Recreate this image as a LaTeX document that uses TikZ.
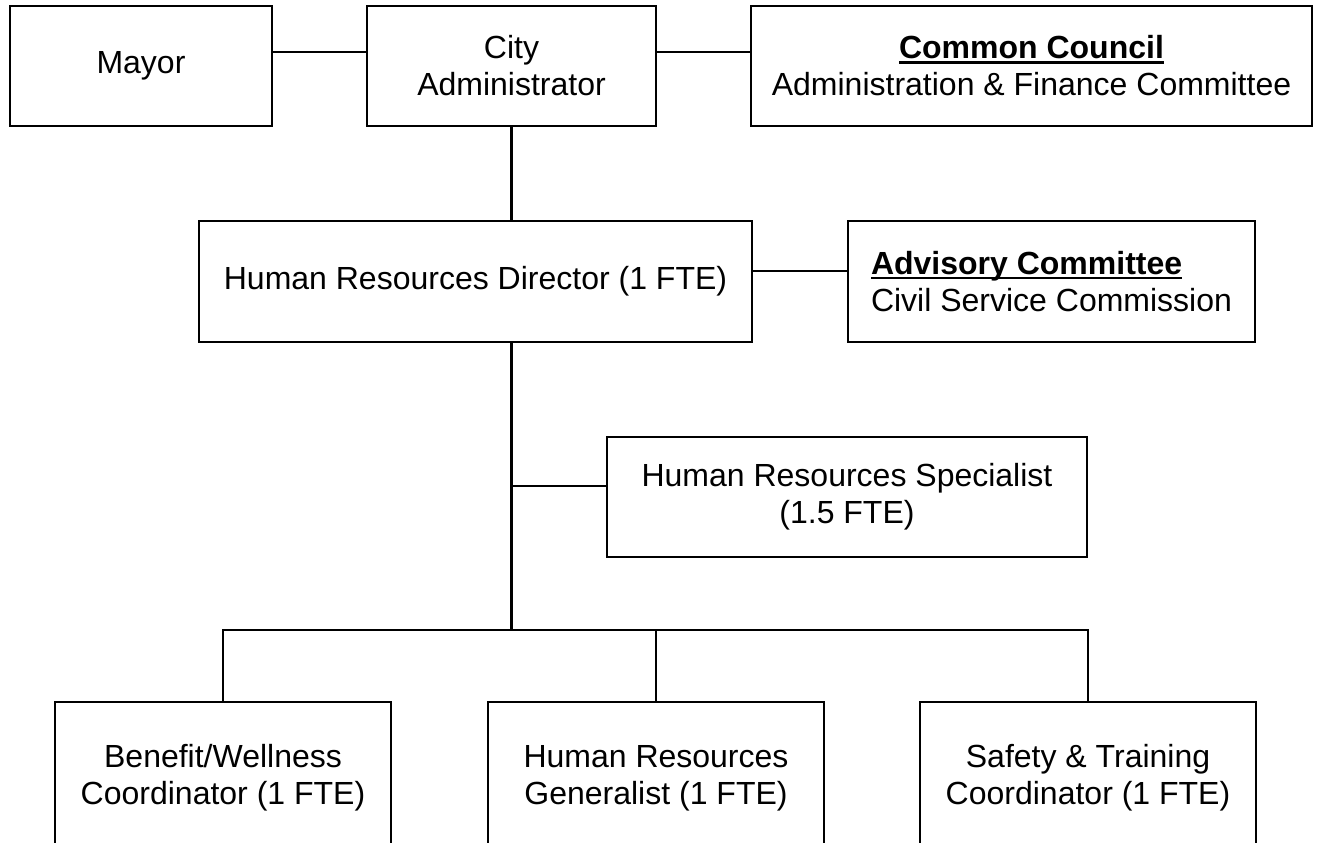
\documentclass[tikz,border=0pt]{standalone}
\usepackage{fontspec}
\setmainfont{Liberation Sans}
\usepackage{tikz}
\usetikzlibrary{positioning}
\tikzset{orgbox/.style = {draw, rectangle, inner sep = 0pt, align = center,
                          font = \fontsize{32}{37}\selectfont}}
\newsavebox{\headbox}
\newcommand{\underbold}[1]{\sbox{\headbox}{\textbf{#1}}%
  \rlap{\rule[-5pt]{\wd\headbox}{2.6pt}}\usebox{\headbox}}

\begin{document}
\begin{tikzpicture}[x = 1pt, y = -1pt, line width = 2.8pt]
      \path [use as bounding box, clip] (0, 0) rectangle (1317, 843);
      \node [orgbox, minimum width = 262pt, minimum height = 120pt] (mayor) at (141, 66) {Mayor};
      \node [orgbox, minimum width = 289pt, minimum height = 120pt] (admin) at (511.5, 66) {City\\Administrator};
      \node [orgbox, minimum width = 561pt, minimum height = 120pt] (council) at (1031.5, 66)
            {\underbold{Common Council}\\Administration \& Finance Committee};
      \node [orgbox, minimum width = 553pt, minimum height = 121pt] (hrd) at (475.5, 281.5)
            {Human Resources Director (1 FTE)};
      \node [orgbox, align = left, minimum width = 407pt, minimum height = 121pt] (advisory) at (1051.5, 281.5)
            {\underbold{Advisory Committee}\\Civil Service Commission};
      \node [orgbox, minimum width = 480pt, minimum height = 120pt] (specialist) at (847, 497)
            {Human Resources Specialist\\(1.5 FTE)};
      \node [orgbox, minimum width = 336pt, minimum height = 152pt] (benefit) at (223, 778)
            {Benefit/Wellness\\Coordinator (1 FTE)};
      \node [orgbox, minimum width = 336pt, minimum height = 152pt] (generalist) at (656, 778)
            {Human Resources\\Generalist (1 FTE)};
      \node [orgbox, minimum width = 336pt, minimum height = 152pt] (safety) at (1088, 778)
            {Safety \& Training\\Coordinator (1 FTE)};
      \coordinate (bus) at (511.5, 630);
      \coordinate (branch) at ([yshift = 11pt] specialist.west);
      \draw ([yshift = 14pt] mayor.east) -- ([yshift = 14pt] admin.west);
      \draw ([yshift = 14pt] admin.east) -- ([yshift = 14pt] council.west);
      \draw (admin.south) -- (admin.south |- hrd.north);
      \draw ([yshift = 10.5pt] hrd.east) -- ([yshift = 10.5pt] advisory.west);
      \draw (admin.south |- hrd.south) -- (bus);
      \draw (branch) -- (branch -| bus);
      \draw (benefit.north) -- (benefit.north |- bus) -- (safety.north |- bus) -- (safety.north);
      \draw (generalist.north |- bus) -- (generalist.north);
    \end{tikzpicture}
\end{document}
